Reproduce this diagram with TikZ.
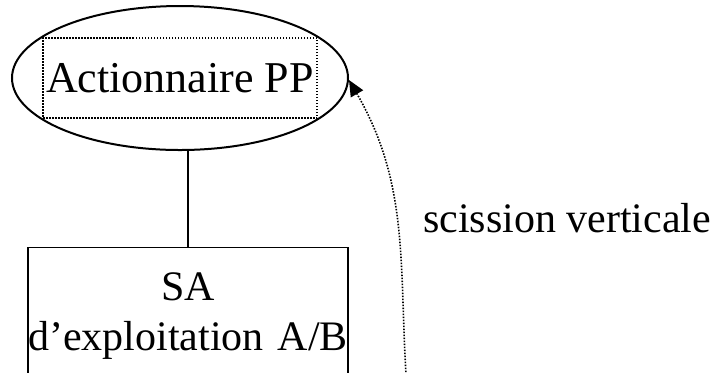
\documentclass[tikz,border=0pt]{standalone}
\usepackage{fontspec}
\setmainfont{Liberation Serif}
\usetikzlibrary{shapes.geometric, arrows.meta, positioning}

\begin{document}
\begin{tikzpicture}[>=Triangle, x=0.5pt, y=-0.5pt]
    \tikzset{oval/.style={draw, ellipse, line width=1pt, minimum width=168pt, minimum height=72pt, inner sep=0pt},
        dots/.style={dash pattern=on 0.75pt off 0.75pt, line width=0.8pt},
        dotbox/.style={draw, dots, minimum width=137pt, minimum height=40pt, inner sep=0pt},
        firm/.style={draw, line width=0.7pt, text width=160pt, align=center, inner xsep=0pt, inner ysep=12.5pt},
        every node/.style={font=\fontsize{21}{25}\selectfont}
    }
    \useasboundingbox (0, 0) rectangle (712, 372);
    \clip (0, 0) rectangle (712, 372);

    \node (PP-Oval) [oval] at (180, 78) {};
    \node (PP) [dotbox] at (180, 78) {\fontsize{22}{25}\selectfont Actionnaire PP};
    \node (SA) [firm, anchor=north] at (188, 247) {SA\\d’exploitation A/B};
    \node (Scission) [anchor=base west] at (416, 232) {scission verticale};
    \coordinate (Start) at (407, 390);

    \draw [line width=0.7pt] (SA.north) -- (SA.north |- PP-Oval.south);
    \draw [-{Triangle[length=8pt, width=7pt]}, dots] (Start) to[out=94, in=-60] ([yshift=-1pt]PP-Oval.east);
\end{tikzpicture}
\end{document}
